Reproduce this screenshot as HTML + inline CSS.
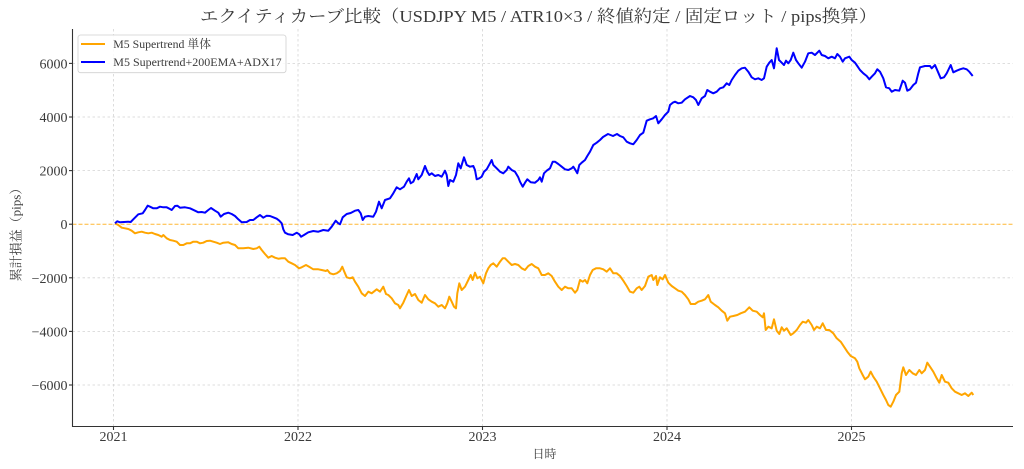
<!DOCTYPE html>
<html><head><meta charset="utf-8">
<style>
html,body{margin:0;padding:0;background:#fff;}
svg{display:block;}
text{font-family:"Liberation Serif","Noto Serif CJK JP",serif;fill:#3a3a3a;}
</style></head>
<body>
<svg width="1024" height="469" viewBox="0 0 1024 469" xmlns="http://www.w3.org/2000/svg">
<rect width="1024" height="469" fill="#fff"/>
<!-- grid -->
<g stroke="#d4d4d4" stroke-width="0.8" stroke-dasharray="2.5,2.5" fill="none">
<line x1="113.5" y1="29" x2="113.5" y2="426.5"/>
<line x1="298" y1="29" x2="298" y2="426.5"/>
<line x1="482.5" y1="29" x2="482.5" y2="426.5"/>
<line x1="667" y1="29" x2="667" y2="426.5"/>
<line x1="851.5" y1="29" x2="851.5" y2="426.5"/>
<line x1="72.5" y1="63.4" x2="1013" y2="63.4"/>
<line x1="72.5" y1="117" x2="1013" y2="117"/>
<line x1="72.5" y1="170.6" x2="1013" y2="170.6"/>
<line x1="72.5" y1="277.8" x2="1013" y2="277.8"/>
<line x1="72.5" y1="331.4" x2="1013" y2="331.4"/>
<line x1="72.5" y1="385" x2="1013" y2="385"/>
</g>
<!-- zero line -->
<line x1="72.5" y1="224.2" x2="1013" y2="224.2" stroke="#FFA500" stroke-opacity="0.8" stroke-width="1" stroke-dasharray="4,2"/>
<!-- orange series -->
<polyline fill="none" stroke="#FFA500" stroke-width="2" stroke-linejoin="round" points="115,223.3 118.3,225 121.7,227.7 125,228.3 128.3,229 131.7,230.7 135,233.3 138.3,232.3 141.7,231.7 145,232.7 148.3,233.3 151.7,232.7 155,234 158.3,235 161.7,236.7 163.3,235 166.7,238.3 170,240 173.3,240.7 176.7,241.7 180,245 183.3,245 186.7,243.3 190,243.3 193.3,241.7 196.7,241.7 200,243.3 203.3,242.7 206.7,241 210,240.7 213.3,241.7 216.7,242.7 220,244 223.3,242.7 228.3,242.3 231.7,244 235,245 238.3,248.3 243.3,248.3 248.3,247.7 253.3,249 256.7,248.3 259.3,246.7 261.7,250 265,254 268.3,257.7 271.7,256 275,257.7 278.3,258.7 281.7,258.3 285,258.3 288.3,261.7 291.7,263.3 295,265 299,268.3 301.7,267.3 306,265 310,267.3 313.3,269.3 318.3,269.3 321.7,270 326,271 327.3,270 330,273.3 333.3,274.3 336.7,273.3 340,271 342.3,266.7 344.3,271.7 346.7,277.3 350,278.3 352.7,277.3 355,281.7 358.3,286.7 361.7,293.3 365,296 368.3,291.7 371.7,293.3 376.7,289.3 380,291.7 383.3,286.7 386,294 388.3,295 391.7,298.3 395,303.3 398.3,305 400,308.3 403.3,302.7 406.7,295 409,290 411.7,296 415,294 418.3,300 421.7,302.7 425,295 428.3,299.3 431.7,301.7 435,303.3 438.3,306.7 441.7,305 445,308.3 447.3,303.3 449.3,296.7 451.7,301.7 454,306.7 456,308.3 457.3,293.3 459.3,283.3 461.7,290 465,286.7 468.3,280 470.7,275 472.7,280 475,272.7 477.3,278.3 480,276.7 483.3,283.3 486,273.3 488.3,268.3 490.7,265 493.3,263.3 496.7,266.7 500,261.7 502.7,258.3 505,258.3 508.3,261.7 511.7,265 515,264 518.3,265 521.7,268.3 525,270 528.3,266 531.7,264 535,266.7 538.3,268.3 541.7,275 545,275 548.3,273.3 551.7,276 555,281.7 558.3,286.7 561.7,290 565,286.7 568.3,288.3 571.7,288.3 575,292.7 577.3,290 580,280 582.7,281.7 585,280 587.3,283.3 590,275 592.7,270 596,268.3 600,268.3 603.3,269.3 606.7,271.7 610,268.3 613.3,273.3 616.7,273.3 620,276 623.3,280.7 626.7,286 630,291.7 633.3,292.7 636.7,288.3 639.3,286.7 641.7,290 645,286 648.3,276.7 651.7,275 653.3,280 656,276 657.3,285 660,277.3 662.7,279.3 665,275 668.3,282.7 671.7,286 675,288.3 678.3,290.7 681.7,291.7 685,295 688.3,299.3 690.7,304 695,304 698.3,301.7 701.7,300.7 705,299.3 708.3,295 710.7,301.7 715,305 718.3,307.3 721.7,310.7 725,313.3 727.3,320.7 730,316.7 733.3,316 737.3,315 740.7,313.3 745,311.7 749.3,307.3 752.7,310.7 756.7,311.7 760,315 762.7,317.3 764,313.3 765.7,330 768.3,326.7 771.7,328.3 774,319.3 776.7,330.7 779.3,334 781.7,327.3 784,330.7 786.7,328.3 790.7,335 793.3,333.3 796.7,330 800,325 802.7,321.7 806,322.7 808.3,320 811.7,325 814,330 816.7,326.7 820,328.3 822.7,323.3 826,330 829.3,330 833.3,333.3 836.7,338.3 840.7,341.7 844,346.7 847.3,351.7 850.7,356 855,358.3 857.3,361.7 859.3,368.3 862.7,375 865,379.3 868.3,376.7 870.7,371.7 873.3,376.7 876.7,381.7 880,388.3 883.3,395 886,400 888.3,405 890.7,406.7 893.3,401.7 896,395 899.3,391.7 901.7,373.3 903.3,367.3 906,375 909.3,370 912.7,373.3 916,375 919.3,370 921.7,373.3 925,370 927.3,362.7 930,366.7 933.3,371.7 936.7,378.3 939.3,382.7 941.7,375 945,381.7 948.3,382.7 951.7,388.3 955,391.7 958.3,393.3 961.7,395 965,393.3 968.3,396 971.7,392.7 973.3,395"/>
<!-- blue series -->
<polyline fill="none" stroke="#0000FF" stroke-width="2" stroke-linejoin="round" points="115,223.3 117.3,221.3 120,222.3 128.3,221.7 130.7,222 133.3,219.3 138.3,214.3 142.7,213.3 145,210 147.7,205.7 150,206.7 153.3,208.3 156.7,208.3 160,206.7 163.3,207.3 166.7,207.3 170,209 171.7,210 175,206 177.3,205.7 180,207.7 185,207.3 190,208.3 195,210.7 198.3,212.3 201.7,212 205,212.7 208.3,210 211,208 215,210.7 218.3,212.7 220.7,216.7 224,214 228.3,212.7 231.7,214 235,216 238.3,219.3 241.7,222.3 246.7,222 250,220 253.3,220 256.7,217.3 260,215 263.3,217.7 266.7,215.7 270,216 273.3,217.3 276.7,218.7 279.3,220.7 281.7,223.3 283.3,229.3 285,232.7 288.3,234.3 292.7,235 296.7,232.7 299.3,234.3 301,236.7 304,235 308.3,232.3 313.3,231 318.3,231.7 323.3,230 328.3,230.7 331.7,226.7 335.7,220.7 338.3,223.3 340,224.3 342.7,217.3 346.7,214 350.7,213 355,210.7 358.3,210 360.7,213.3 362.7,220 365,216.7 368.3,216 373.3,216.7 376,211.7 379,201.7 381.7,208.3 385,200 390,198.3 393.3,193.3 396.7,187.3 400,189.3 404,186.7 406.7,181.7 409,178.3 410.7,183.3 413.3,181.7 416.7,174 418.3,179.3 421.7,175 425,166 427.3,171.7 429.3,175 431.7,173.3 435,176 438.3,175 441.7,176.7 445,170.7 446.7,175 448.3,186 450,180 453.3,181.7 456,175 458.3,163.3 460.7,168.3 464,157.3 466.7,165 470,166.7 473.3,166 475,170 476.7,179.3 479.3,178.3 481.7,176.7 484,171.7 486.7,169.3 490,163.3 491.7,160 493.3,165 496.7,168.3 500,171.7 503.3,173.3 506.7,170 508.3,166.7 511.7,170 515,171.7 518.3,177.3 520,181.7 522.7,186.7 525,182.7 527.3,179.3 530.7,182.3 535,182.7 538.3,180 540,177.3 541.7,181.7 544,173.3 546.7,170.7 550,168.3 552.7,161.7 555,161.7 558.3,164 561.7,166.7 565,169.3 568.3,170 571.7,168.3 573.3,166.7 575,169.3 577.3,173.3 579.3,165 581.7,162.7 585,160 587.3,156 590,151.7 593.3,145 596.7,142.7 600,140 603,137 608,134 613,136 617,134 620,136 623.3,137.3 626.7,141.7 630,143.3 633.3,144.3 636.7,140 640,135 643.3,132.7 646.7,120.7 650,119.3 653.3,118.3 656,116 658.3,123.3 661.7,119.3 665,115 668.3,111.7 670,105 672.7,102.7 675,101.7 678.3,103.3 681.7,102.7 685,99.3 690,96 693.3,97.3 696,100 698.3,105 701.7,98.3 705,96 707.3,90 710,91.7 713.3,93.3 716.7,91.7 720,88.3 723.3,87.3 726.7,83.3 729.3,85 731.7,80 735,75 738.3,70.7 741.7,68.3 745,67.7 748.3,71.7 751.7,77.3 755,79.3 758.3,78.3 761.7,80 764,78.3 766.7,66.7 769.3,62.7 771.7,60 774,68.3 776.7,48.3 779,60 781.7,62.7 784,65 786,60.7 788.3,63.3 790.7,60 793.3,52.7 796,60 798.3,63.3 801.7,67.7 805,61.7 808.3,53.3 811.7,52.7 815,55 819.3,50.7 821.7,55 825,56 828.3,58.3 831.7,56.7 835,58.3 837.3,54 840,56.7 842.7,61.7 845,58.3 849.3,56.7 851.7,60 855,62.7 857.3,66 860,70 863.3,73.3 866.7,76 869.3,79.3 871.7,76.7 875,73.3 877.3,69.3 880,71.7 883.3,78.3 886,87.3 889.3,88.3 891.7,91.7 895,90 899.3,90.7 902.7,80.7 905,82.7 907.3,90.7 910,89.3 913.3,85 916,82.7 918.3,73.3 920,67.3 925,66 930,66 931.7,68.3 935,65 938.3,72.7 940.7,78.3 944,77.3 946.7,73.3 948.3,70 950.7,65 953.3,72.3 956.7,70.7 960,69.3 963.3,68.3 966.7,69.3 969.3,71.7 972.7,76"/>
<!-- spines -->
<g stroke="#333" stroke-width="1.1" fill="none">
<line x1="72.5" y1="29" x2="72.5" y2="427"/>
<line x1="72" y1="426.5" x2="1013" y2="426.5"/>
<line x1="69" y1="63.4" x2="72.5" y2="63.4"/>
<line x1="69" y1="117" x2="72.5" y2="117"/>
<line x1="69" y1="170.6" x2="72.5" y2="170.6"/>
<line x1="69" y1="224.2" x2="72.5" y2="224.2"/>
<line x1="69" y1="277.8" x2="72.5" y2="277.8"/>
<line x1="69" y1="331.4" x2="72.5" y2="331.4"/>
<line x1="69" y1="385" x2="72.5" y2="385"/>
<line x1="113.5" y1="426.5" x2="113.5" y2="430"/>
<line x1="298" y1="426.5" x2="298" y2="430"/>
<line x1="482.5" y1="426.5" x2="482.5" y2="430"/>
<line x1="667" y1="426.5" x2="667" y2="430"/>
<line x1="851.5" y1="426.5" x2="851.5" y2="430"/>
</g>
<!-- y tick labels -->
<g font-size="14" text-anchor="end">
<text x="67.5" y="68.4">6000</text>
<text x="67.5" y="122">4000</text>
<text x="67.5" y="175.6">2000</text>
<text x="67.5" y="229.2">0</text>
<text x="67.5" y="282.8">−2000</text>
<text x="67.5" y="336.4">−4000</text>
<text x="67.5" y="390">−6000</text>
</g>
<!-- x tick labels -->
<g font-size="14" text-anchor="middle">
<text x="113.5" y="441">2021</text>
<text x="298" y="441">2022</text>
<text x="482.5" y="441">2023</text>
<text x="667" y="441">2024</text>
<text x="851.5" y="441">2025</text>
</g>
<!-- axis labels -->
<text x="544.5" y="458" font-size="12" text-anchor="middle">日時</text>
<text transform="translate(20.5,231.5) rotate(-90)" font-size="13" text-anchor="middle">累計損益（pips）</text>
<!-- title -->
<text x="200" y="22" font-size="17" textLength="677" lengthAdjust="spacingAndGlyphs">エクイティカーブ比較（USDJPY M5 / ATR10×3 / 終値約定 / 固定ロット / pips換算）</text>
<!-- legend -->
<rect x="78" y="35" width="208" height="37.7" rx="2.5" ry="2.5" fill="#fff" fill-opacity="0.85" stroke="#d0d0d0" stroke-width="0.8"/>
<line x1="81" y1="44" x2="105" y2="44" stroke="#FFA500" stroke-width="2"/>
<line x1="81" y1="62" x2="105" y2="62" stroke="#0000FF" stroke-width="2"/>
<text x="113.3" y="48" font-size="12" textLength="97.7" lengthAdjust="spacingAndGlyphs">M5 Supertrend 単体</text>
<text x="113.3" y="66" font-size="12" textLength="168.3" lengthAdjust="spacingAndGlyphs">M5 Supertrend+200EMA+ADX17</text>
</svg>
</body></html>
